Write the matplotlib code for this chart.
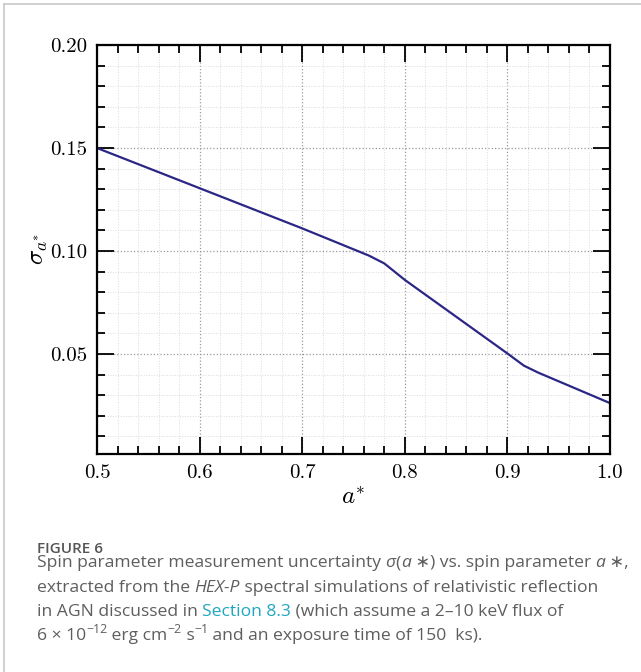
import numpy as np
import matplotlib
matplotlib.use("Agg")
import matplotlib.pyplot as plt
from matplotlib.transforms import IdentityTransform

# spin parameter vs. uncertainty
spin = [0.5, 0.6, 0.7, 0.765, 0.78, 0.8, 0.9, 0.916, 0.93, 1.0]
sigma = [0.150, 0.1305, 0.111, 0.0978, 0.0940, 0.0860, 0.0503, 0.0444, 0.0410, 0.0262]

xTicks = [0.5, 0.6, 0.7, 0.8, 0.9, 1.0]
yTicks = [0.05, 0.10, 0.15, 0.20]

captionGray = "#5e5e5e"
linkColor = "#1fa6c0"

plt.rcParams["mathtext.fontset"] = "cm"
plt.rcParams["font.family"] = "serif"
plt.rcParams["font.serif"] = ["cmr10"]
plt.rcParams["axes.formatter.use_mathtext"] = True

fig = plt.figure(figsize=(6.41, 6.72), dpi=100)
ax = fig.add_axes([97/641, 1-454/672, (610-97)/641, (454-45)/672])

ax.plot(spin, sigma, color="#2b2686", lw=1.6)

ax.set_xlim(0.5, 1.0)
ax.set_ylim(0.0015, 0.20)
ax.set_xticks(xTicks)
ax.set_xticklabels(["%.1f" % v for v in xTicks])
ax.set_yticks(yTicks)
ax.set_yticklabels(["%.2f" % v for v in yTicks])
ax.set_xticks(np.arange(0.52, 1.0, 0.02), minor=True)
ax.set_yticks(np.arange(0.01, 0.20, 0.01), minor=True)

ax.tick_params(which="both", direction="in", top=True, right=True, width=1.3, labelsize=15)
ax.tick_params(which="major", length=12, pad=7)
ax.tick_params(which="minor", length=6)
for sp in ax.spines.values():
    sp.set_linewidth(1.6)

ax.grid(which="major", ls=":", color="#9a9a9a", lw=0.9)
ax.grid(which="minor", ls=":", color="#dcdcdc", lw=0.7)

ax.set_xlabel(r"$a^{*}$", fontsize=18, labelpad=4)
ax.set_ylabel(r"$\sigma_{a^{*}}$", fontsize=18, labelpad=0)

# light frame around the panel
fig.add_artist(plt.Line2D([4/641, 4/641], [0, 1-4/672], color="#c8c8c8", lw=1.2))
fig.add_artist(plt.Line2D([4/641, 1], [1-4/672, 1-4/672], color="#c8c8c8", lw=1.2))

renderer = fig.canvas.get_renderer()
sansFam = ["Open Sans", "DejaVu Sans"]
capSize = 12.6


def drawRuns(x, baseline, runs, size=capSize, weight="normal"):
    y = 672 - baseline
    for run in runs:
        txt = run[0]
        opts = run[1] if len(run) > 1 else {}
        fs = size * (0.7 if opts.get("sup") else 1.0)
        dy = 7 if opts.get("sup") else 0
        t = fig.text(x, y + dy, txt, transform=IdentityTransform(),
                     family=sansFam, fontsize=fs, fontweight=weight,
                     style="italic" if opts.get("it") else "normal",
                     color=opts.get("color", captionGray), va="baseline", ha="left")
        x += t.get_window_extent(renderer).width


drawRuns(37, 553, [("FIGURE 6", {"color": "#555555"})], size=11, weight="semibold")
drawRuns(37, 567, [("Spin parameter measurement uncertainty ",), ("σ", {"it": True}), ("(",),
                   ("a", {"it": True}), (" ∗) vs. spin parameter ",), ("a", {"it": True}), (" ∗,",)])
drawRuns(37, 592, [("extracted from the ",), ("HEX-P", {"it": True}),
                   (" spectral simulations of relativistic reflection",)])
drawRuns(37, 616, [("in AGN discussed in ",), ("Section 8.3", {"color": linkColor}),
                   (" (which assume a 2–10 keV flux of",)])
drawRuns(37, 640, [("6 × 10",), ("−12", {"sup": True}), (" erg cm",), ("−2", {"sup": True}),
                   (" s",), ("−1", {"sup": True}), (" and an exposure time of 150  ks).",)])

fig.savefig("out.png", dpi=100)
